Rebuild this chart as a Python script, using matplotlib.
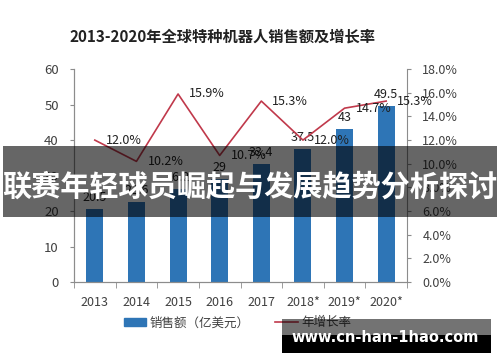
import matplotlib
matplotlib.use("Agg")
import matplotlib.pyplot as plt
from matplotlib.patches import Rectangle, Patch
from matplotlib.lines import Line2D
from matplotlib.ticker import FuncFormatter, FixedLocator

plt.rcParams['font.family'] = ['Noto Sans CJK SC', 'DejaVu Sans']

# --------------------------------
# Data
# --------------------------------
years = ["2013", "2014", "2015", "2016", "2017", "2018*", "2019*", "2020*"]
sales = [20.5, 22.6, 26.2, 29, 33.4, 37.5, 43, 49.5]
growth = [12.0, 10.2, 15.9, 10.7, 15.3, 12.0, 14.7, 15.3]

title = "2013-2020年全球特种机器人销售额及增长率"
banner = "联赛年轻球员崛起与发展趋势分析探讨"
watermark = "www.cn-han-1hao.com"

bar_color = "#2E75B6"
line_color = "#C0394B"
text_color = "#404040"
spine_color = "#8C8C8C"

# --------------------------------
# Figure
# --------------------------------
fig = plt.figure(figsize=(5.0, 3.62), dpi=100)
ax = fig.add_axes([0.148, 0.221, 0.666, 0.588])
ax2 = ax.twinx()

x = list(range(len(years)))
ax.bar(x, sales, width=0.41, color=bar_color, zorder=2)
for xi, v in zip(x, sales):
    ax.annotate(f"{v:g}", (xi, v), xytext=(0, 5), textcoords="offset pixels",
                ha="center", va="bottom", fontsize=9, color="#202020")

ax.set_xlim(-0.5, len(years) - 0.5)
ax.set_ylim(0, 60)
ax.set_yticks(range(0, 61, 10))
ax.set_xticks(x)
ax.set_xticklabels(years)
ax.xaxis.set_minor_locator(FixedLocator([i - 0.5 for i in range(len(years) + 1)]))
ax.tick_params(axis="x", which="major", length=0, pad=10, labelsize=9, colors=text_color)
ax.tick_params(axis="x", which="minor", length=4, color=spine_color)
ax.tick_params(axis="y", length=3, pad=8, labelsize=9.5, colors=text_color, color=spine_color)

ax2.plot(x, [g / 100 for g in growth], color=line_color, linewidth=1.2, zorder=3)
for xi, g in zip(x, growth):
    ax2.annotate(f"{g:.1f}%", (xi, g / 100), xytext=(11, 0), textcoords="offset pixels",
                 ha="left", va="center", fontsize=9, color="#202020")
ax2.set_ylim(0, 0.18)
ax2.set_yticks([i / 100 for i in range(0, 19, 2)])
ax2.yaxis.set_major_formatter(FuncFormatter(lambda v, p: f"{v * 100:.1f}%"))
ax2.tick_params(axis="y", length=3, pad=8, labelsize=9, colors=text_color, color=spine_color)

for a in (ax, ax2):
    a.spines["top"].set_visible(False)
    for s in ("left", "right", "bottom"):
        a.spines[s].set_color(spine_color)
        a.spines[s].set_linewidth(0.8)
ax.spines["right"].set_visible(False)

fig.text(0.445, 0.898, title, ha="center", va="center", fontsize=11,
         fontweight="bold", color="#222222")

handles = [Patch(color=bar_color), Line2D([], [], color=line_color, linewidth=1.2)]
fig.legend(handles, ["销售额（亿美元）", "年增长率"], loc="center",
           bbox_to_anchor=(0.475, 0.108), ncol=2, frameon=False, fontsize=9,
           handlelength=1.8, handleheight=0.7, handletextpad=0.3, columnspacing=2.0,
           labelcolor=text_color)

# --------------------------------
# Overlay banner and watermark
# --------------------------------
fig.add_artist(Rectangle((0.006, 0.4006), 0.988, 0.196, transform=fig.transFigure,
                         facecolor="black", alpha=0.6, edgecolor="none", zorder=10))
fig.text(0.5, 0.485, banner, ha="center", va="center", fontsize=21,
         fontweight="bold", color="white", zorder=11)

fig.add_artist(Rectangle((0.564, 0.0746), 0.418, 0.0442, transform=fig.transFigure,
                         facecolor="black", alpha=0.55, edgecolor="none", zorder=10))
fig.add_artist(Rectangle((0.564, 0.025), 0.418, 0.0497, transform=fig.transFigure,
                         facecolor="black", edgecolor="none", zorder=10))
fig.text(0.771, 0.069, watermark, ha="center", va="center", fontsize=10.5,
         fontweight="bold", color="white", family="DejaVu Sans", zorder=11)

fig.savefig("out.png", dpi=100)
